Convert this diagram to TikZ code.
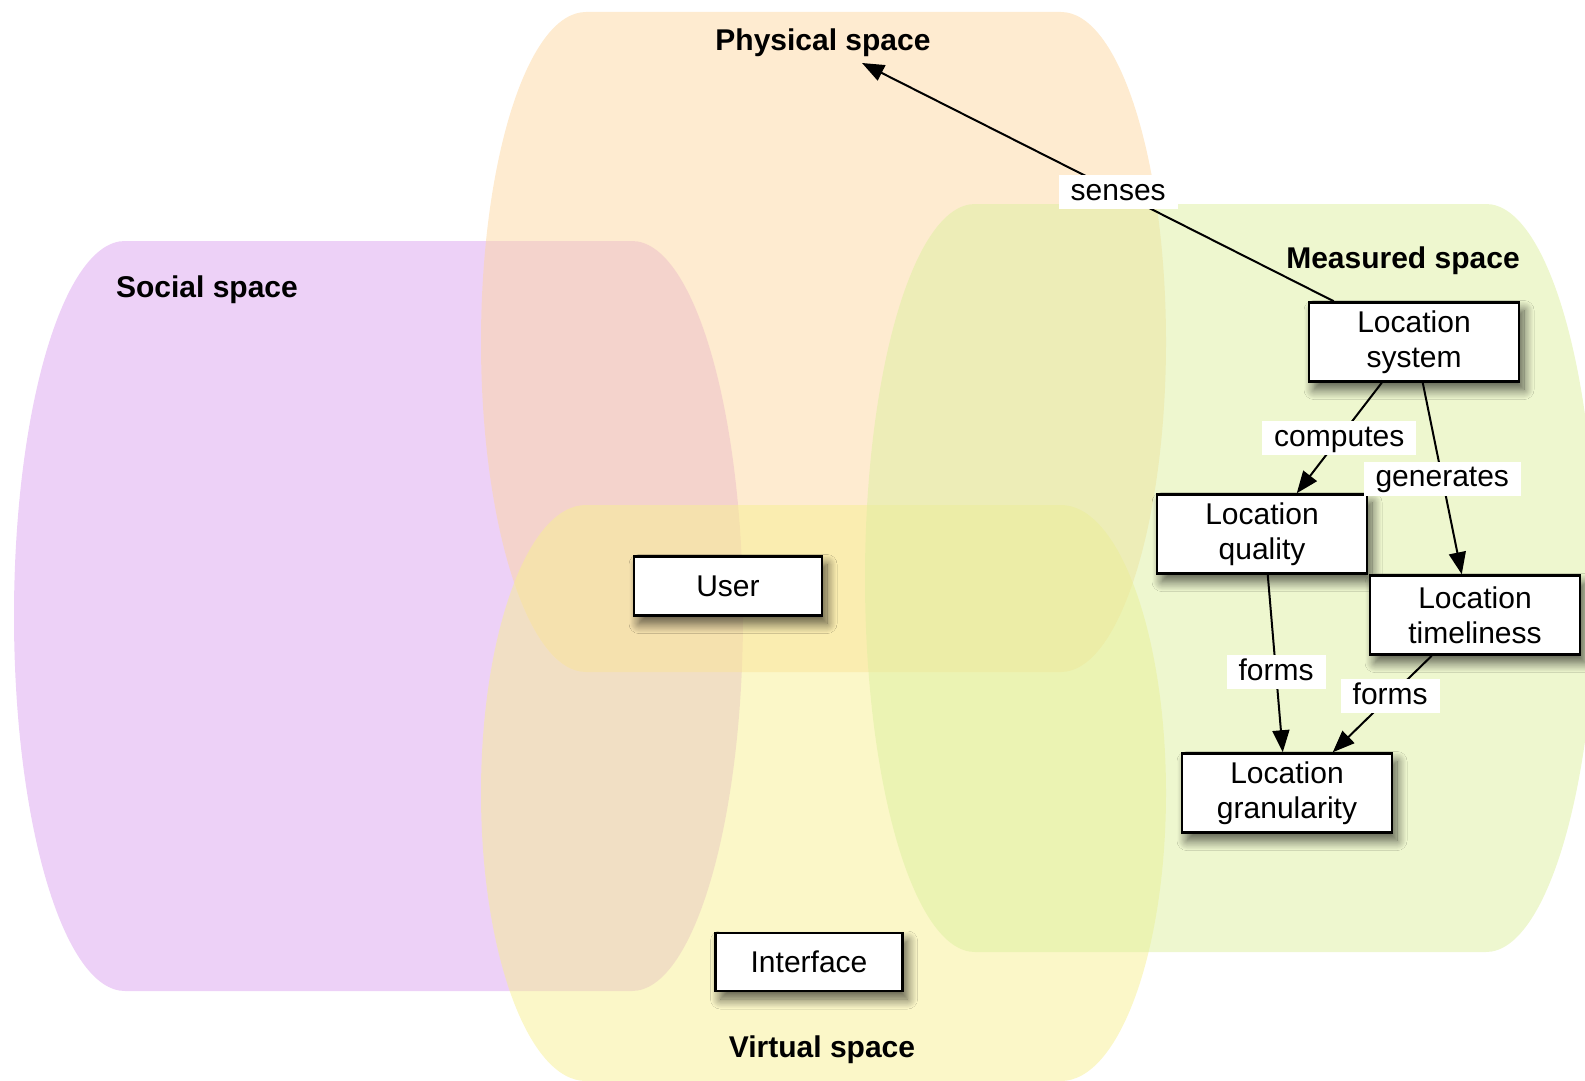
\documentclass[tikz,border=0pt]{standalone}
\usepackage{fontspec}
\setmainfont{Liberation Sans}
\usetikzlibrary{arrows.meta,calc,shadows.blur}
\definecolor{socialc}{HTML}{DBA3EF}
\definecolor{physc}{HTML}{FDD7A1}
\definecolor{virtc}{HTML}{F7EF91}
\definecolor{measc}{HTML}{DDEF9F}
\tikzset{
  spacefill/.style={fill=#1, fill opacity=0.5, draw=none},
  spacelabel/.style={anchor=base, font=\fontsize{30}{35}\selectfont\bfseries, inner sep=0pt},
  box/.style={draw=black, line width=2.5pt, fill=white, align=center, inner sep=0pt,
    font=\fontsize{30}{35}\selectfont,
    blur shadow={shadow xshift=5pt, shadow yshift=-8pt, shadow blur radius=10pt, shadow blur steps=12, shadow opacity=65}},
  bigbox/.style={box, minimum width=210pt, minimum height=79pt},
  smallbox/.style={box, minimum width=188pt, minimum height=59pt},
  lbl/.style={fill=white, inner xsep=12pt, inner ysep=3pt, text height=22pt, text depth=6pt,
    font=\fontsize{30}{35}\selectfont},
  conn/.style={draw=black, line width=2pt, -{Triangle[length=22pt,width=17pt]}},
}
\begin{document}
\begin{tikzpicture}[x=1pt,y=-1pt]
\useasboundingbox (0,0) rectangle (1585,1081);
% Social space
\path[spacefill=socialc] (632,241) .. controls (693.3,241) and (743,408.9) .. (743,616)
  .. controls (743,823.1) and (693.3,991) .. (632,991) -- (125,991)
  .. controls (63.7,991) and (14,823.1) .. (14,616)
  .. controls (14,408.9) and (63.7,241) .. (125,241) -- cycle;
% Physical space
\path[spacefill=physc] (1061,12) .. controls (1119,12) and (1166,159.7) .. (1166,342)
  .. controls (1166,524.3) and (1119,672) .. (1061,672) -- (586,672)
  .. controls (528,672) and (481,524.3) .. (481,342)
  .. controls (481,159.7) and (528,12) .. (586,12) -- cycle;
% Virtual space
\path[spacefill=virtc] (1061,505) .. controls (1119,505) and (1166,633.9) .. (1166,793)
  .. controls (1166,952.1) and (1119,1081) .. (1061,1081) -- (586,1081)
  .. controls (528,1081) and (481,952.1) .. (481,793)
  .. controls (481,633.9) and (528,505) .. (586,505) -- cycle;
% Measured space
\path[spacefill=measc] (1486,204) .. controls (1546.8,204) and (1596,371.4) .. (1596,578)
  .. controls (1596,784.6) and (1546.8,952) .. (1486,952) -- (975,952)
  .. controls (914.2,952) and (865,784.6) .. (865,578)
  .. controls (865,371.4) and (914.2,204) .. (975,204) -- cycle;

% space labels
\node[spacelabel] (physlbl) at (823,51) {Physical space};
\node[spacelabel] (sociallbl) at (207,297) {Social space};
\node[spacelabel] (measlbl) at (1403,268) {Measured space};
\node[spacelabel] (virtlbl) at (822,1057) {Virtual space};

% boxes
\node[bigbox] (ls) at (1414,342) {Location\\system};
\node[bigbox] (lq) at (1262,534) {Location\\quality};
\node[bigbox] (lt) at (1475,615) {Location\\timeliness};
\node[bigbox] (lg) at (1287,793) {Location\\granularity};
\node[smallbox] (user) at (728,586) {User};
\node[smallbox, minimum width=187pt, minimum height=58pt] (iface) at (809,962) {Interface};

\coordinate (ptip) at (862,63);

% connectors
\draw[conn] ($(ls.north west)+(26,0)$) -- node[lbl, pos=0.457] {senses} (ptip);
\draw[conn] ($(ls.south west)+(74,0)$) -- node[lbl, pos=0.5] {computes} ($(lq.north west)+(141,0)$);
\draw[conn] ($(ls.south west)+(115,0)$) -- node[lbl, pos=0.5] {generates} ($(lt.north west)+(93,0)$);
\draw[conn] ($(lq.south west)+(112,0)$) -- node[lbl, pos=0.55] {forms} ($(lg.north west)+(102,0)$);
\draw[conn] ($(lt.south west)+(63,0)$) -- node[lbl, pos=0.42] {forms} ($(lg.north west)+(152,0)$);
\end{tikzpicture}
\end{document}
